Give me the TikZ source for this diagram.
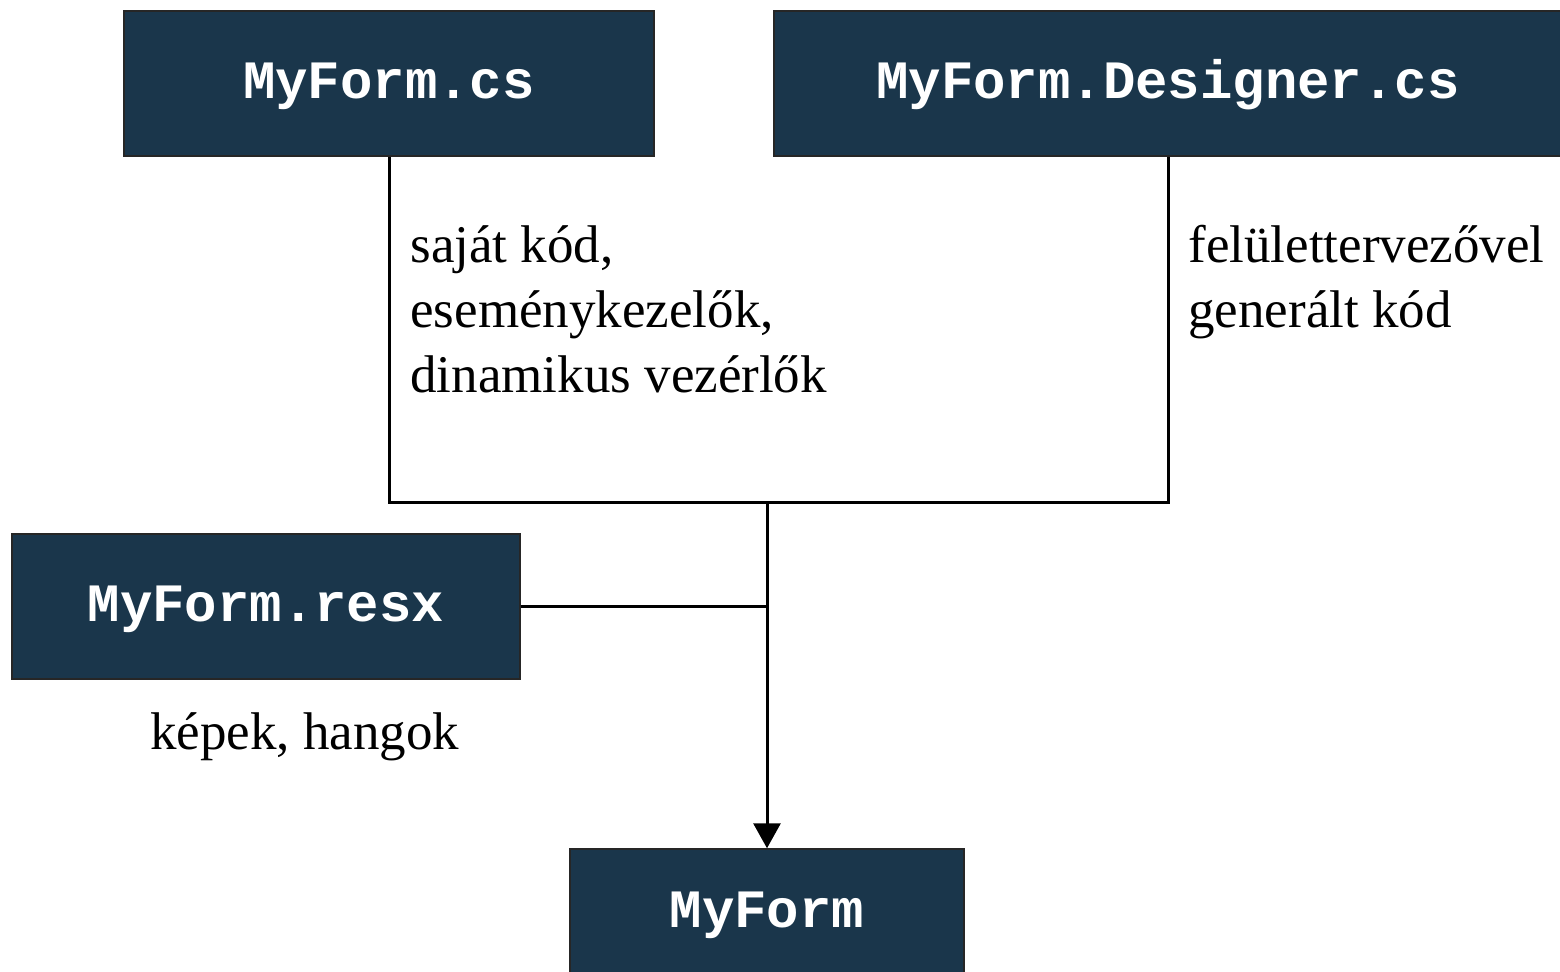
\documentclass[tikz,border=0pt]{standalone}
\usepackage{fontspec}
\setmainfont{Liberation Serif}
\setmonofont{Liberation Mono}
\usetikzlibrary{arrows.meta}
\definecolor{boxblue}{HTML}{1A364B}
\begin{document}
\begin{tikzpicture}[x=0.5pt,y=-0.5pt,
  filebox/.style={draw=black!85, line width=0.75pt, fill=boxblue, text=white,
    font=\fontsize{27pt}{32pt}\ttfamily\bfseries, minimum height=72.5pt,
    text height=15pt, text depth=0pt, inner sep=0pt},
  conn/.style={draw=black, line width=1.5pt},
  lbl/.style={font=\fontsize{26.5pt}{32.5pt}\selectfont, align=left, anchor=base west, inner sep=0pt}]
\useasboundingbox (0,0) rectangle (1560,971);
\node[filebox, minimum width=265pt] (cs) at (389,83.5) {MyForm.cs};
\node[filebox, minimum width=394pt] (des) at (1168,83.5) {MyForm.Designer.cs};
\node[filebox, minimum width=254pt] (resx) at (266,606.5) {MyForm.resx};
\node[filebox, minimum width=197pt, minimum height=63pt] (form) at (767,912) {MyForm};
\coordinate (bus) at (767,502);
\draw[conn] (cs.south) |- (bus) -| (des.south);
\draw[conn] (resx.east) -- (resx.east -| bus);
\draw[conn, -{Triangle[length=12.5pt,width=13.5pt]}] (bus) -- (form.north);
\node[lbl] (l1) at (410,392) {saját kód,\\eseménykezelők,\\dinamikus vezérlők};
\node[lbl] (l2) at (1188,327) {felülettervezővel\\generált kód};
\node[lbl] (l3) at (150,749) {képek, hangok};
\end{tikzpicture}
\end{document}
